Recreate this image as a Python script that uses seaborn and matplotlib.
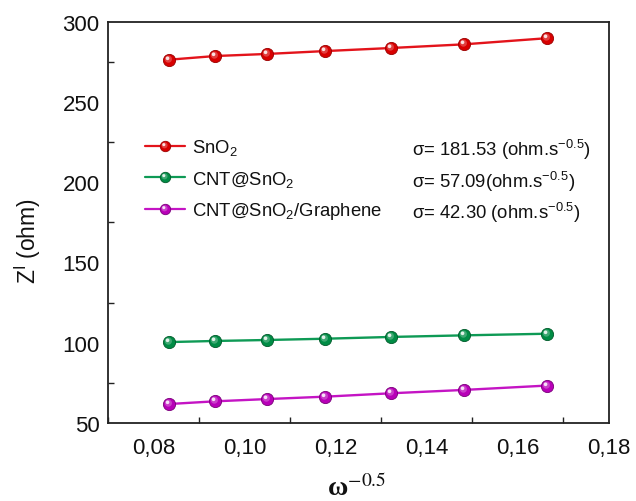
import numpy as np
import pandas as pd
import seaborn as sns
import matplotlib
matplotlib.use("Agg")
import matplotlib.pyplot as plt
from matplotlib.path import Path
from matplotlib.lines import Line2D
from matplotlib.legend_handler import HandlerTuple
from matplotlib.ticker import FixedLocator, MultipleLocator

# ---------------- data ----------------
omega_inv_sqrt = [0.0833, 0.0935, 0.1049, 0.1177, 0.1321, 0.1482, 0.1663]
z_sno2 = [276.3, 278.6, 279.9, 281.7, 283.6, 285.9, 289.7]
z_cnt_sno2 = [100.4, 101.1, 101.7, 102.5, 103.6, 104.6, 105.6]
z_cnt_sno2_gr = [61.8, 63.5, 64.9, 66.4, 68.5, 70.6, 73.3]

series_names = ["SnO$_2$", "CNT@SnO$_2$", "CNT@SnO$_2$/Graphene"]
sigma_labels = ["σ= 181.53 (ohm.s$^{\\mathrm{-0.5}}$)",
                "σ= 57.09(ohm.s$^{\\mathrm{-0.5}}$)",
                "σ= 42.30 (ohm.s$^{\\mathrm{-0.5}}$)"]
line_colors = ["#E3141B", "#0E9A55", "#C414C4"]
ball_colors = ["#D80000", "#008C45", "#B800B8"]
ball_edges = ["#9A0000", "#005A2A", "#7A007A"]

xtick_values = [0.08, 0.10, 0.12, 0.14, 0.16, 0.18]
xtick_labels = ["0,08", "0,10", "0,12", "0,14", "0,16", "0,18"]
ytick_values = [50, 100, 150, 200, 250, 300]
ytick_labels = ["50", "100", "150", "200", "250", "300"]

df = pd.DataFrame({
    "x": omega_inv_sqrt * 3,
    "z": z_sno2 + z_cnt_sno2 + z_cnt_sno2_gr,
    "sample": [series_names[0]] * 7 + [series_names[1]] * 7 + [series_names[2]] * 7,
})

# ---------------- style ----------------
sns.set_theme(style="ticks")
plt.rcParams["font.family"] = ["Liberation Sans", "DejaVu Sans"]
plt.rcParams["mathtext.fontset"] = "custom"
plt.rcParams["mathtext.rm"] = "Liberation Sans"
plt.rcParams["mathtext.it"] = "Liberation Sans:italic"
plt.rcParams["mathtext.sf"] = "Liberation Sans"
plt.rcParams["axes.unicode_minus"] = False
plt.rcParams["xtick.direction"] = "in"
plt.rcParams["ytick.direction"] = "in"

fig = plt.figure(figsize=(6.36, 5.02), dpi=100)
ax = fig.add_axes([0.1698, 0.1554, 0.9575 - 0.1698, 0.9548 - 0.1554])

MS = 8.8

def offset_circle(cx, cy, r):
    # circle offset from the marker centre; the (1,1) MOVETO keeps the unit-ball scale
    t = np.linspace(0, 2 * np.pi, 40)
    verts = [(1.0, 1.0)] + list(zip(cx + r * np.cos(t), cy + r * np.sin(t)))
    codes = [Path.MOVETO, Path.MOVETO] + [Path.LINETO] * (len(t) - 1)
    return Path(verts, codes)

HL = offset_circle(-0.32, 0.36, 0.30)
GL = offset_circle(-0.18, 0.22, 0.58)

sns.lineplot(data=df, x="x", y="z", hue="sample", palette=line_colors,
             hue_order=series_names, linewidth=1.7, legend=False, ax=ax,
             marker=None, zorder=2)

ys = [z_sno2, z_cnt_sno2, z_cnt_sno2_gr]
handles = []
for i, y in enumerate(ys):
    ax.plot(omega_inv_sqrt, y, linestyle="none", marker="o", markersize=MS,
            markerfacecolor=ball_colors[i], markeredgecolor=ball_edges[i],
            markeredgewidth=0.6, zorder=3)
    ax.plot(omega_inv_sqrt, y, linestyle="none", marker=GL, markersize=MS,
            markerfacecolor="white", markeredgewidth=0, alpha=0.25, zorder=4)
    ax.plot(omega_inv_sqrt, y, linestyle="none", marker=HL, markersize=MS,
            markerfacecolor="white", markeredgewidth=0, alpha=0.85, zorder=5)
    h1 = Line2D([], [], color=line_colors[i], linewidth=1.6, marker="o",
                markersize=7.5, markerfacecolor=ball_colors[i],
                markeredgecolor=ball_edges[i], markeredgewidth=0.6)
    h2 = Line2D([], [], linestyle="none", marker=GL, markersize=7.5,
                markerfacecolor="white", markeredgewidth=0, alpha=0.25)
    h3 = Line2D([], [], linestyle="none", marker=HL, markersize=7.5,
                markerfacecolor="white", markeredgewidth=0, alpha=0.85)
    handles.append((h1, h2, h3))

leg = ax.legend(handles, series_names,
                handler_map={tuple: HandlerTuple(ndivide=1, pad=0)},
                loc="upper left", bbox_to_anchor=(0.074, 0.712), frameon=False,
                fontsize=13.3, handlelength=2.15, handletextpad=0.4,
                labelspacing=0.62, borderpad=0, borderaxespad=0)
for t in leg.get_texts():
    t.set_color("#111111")

sig_y = [0.683, 0.602, 0.526]
for s, yy in zip(sigma_labels, sig_y):
    ax.text(0.607, yy, s, transform=ax.transAxes, fontsize=13.3,
            ha="left", va="center", color="#111111")

# ---------------- axes ----------------
ax.set_xlim(0.07, 0.18)
ax.set_ylim(50, 300)
ax.xaxis.set_major_locator(FixedLocator(xtick_values))
ax.set_xticklabels(xtick_labels)
ax.yaxis.set_major_locator(FixedLocator(ytick_values))
ax.set_yticklabels(ytick_labels)
ax.xaxis.set_minor_locator(MultipleLocator(0.02, offset=0.01))
ax.yaxis.set_minor_locator(MultipleLocator(50, offset=25))
ax.tick_params(axis="both", which="major", length=0, labelsize=16,
               colors="#111111")
ax.tick_params(axis="x", which="major", pad=10)
ax.tick_params(axis="y", which="major", pad=6)
ax.tick_params(axis="both", which="minor", direction="in", length=4,
               width=1.0, color="#222222", left=True, bottom=True)
for sp in ax.spines.values():
    sp.set_visible(True)
    sp.set_linewidth(1.3)
    sp.set_color("#222222")

ax.set_ylabel(r"Z$^{\mathsf{I}}$ (ohm)", fontsize=16.5, color="#111111")
ax.yaxis.set_label_coords(-0.13, 0.455)
ax.set_xlabel("ω$^{-0.5}$", fontsize=20, family=["Liberation Serif", "DejaVu Serif"],
              fontweight="bold", math_fontfamily="stix", color="#111111")
ax.xaxis.set_label_coords(0.497, -0.125)

fig.savefig("out.png", dpi=100)
